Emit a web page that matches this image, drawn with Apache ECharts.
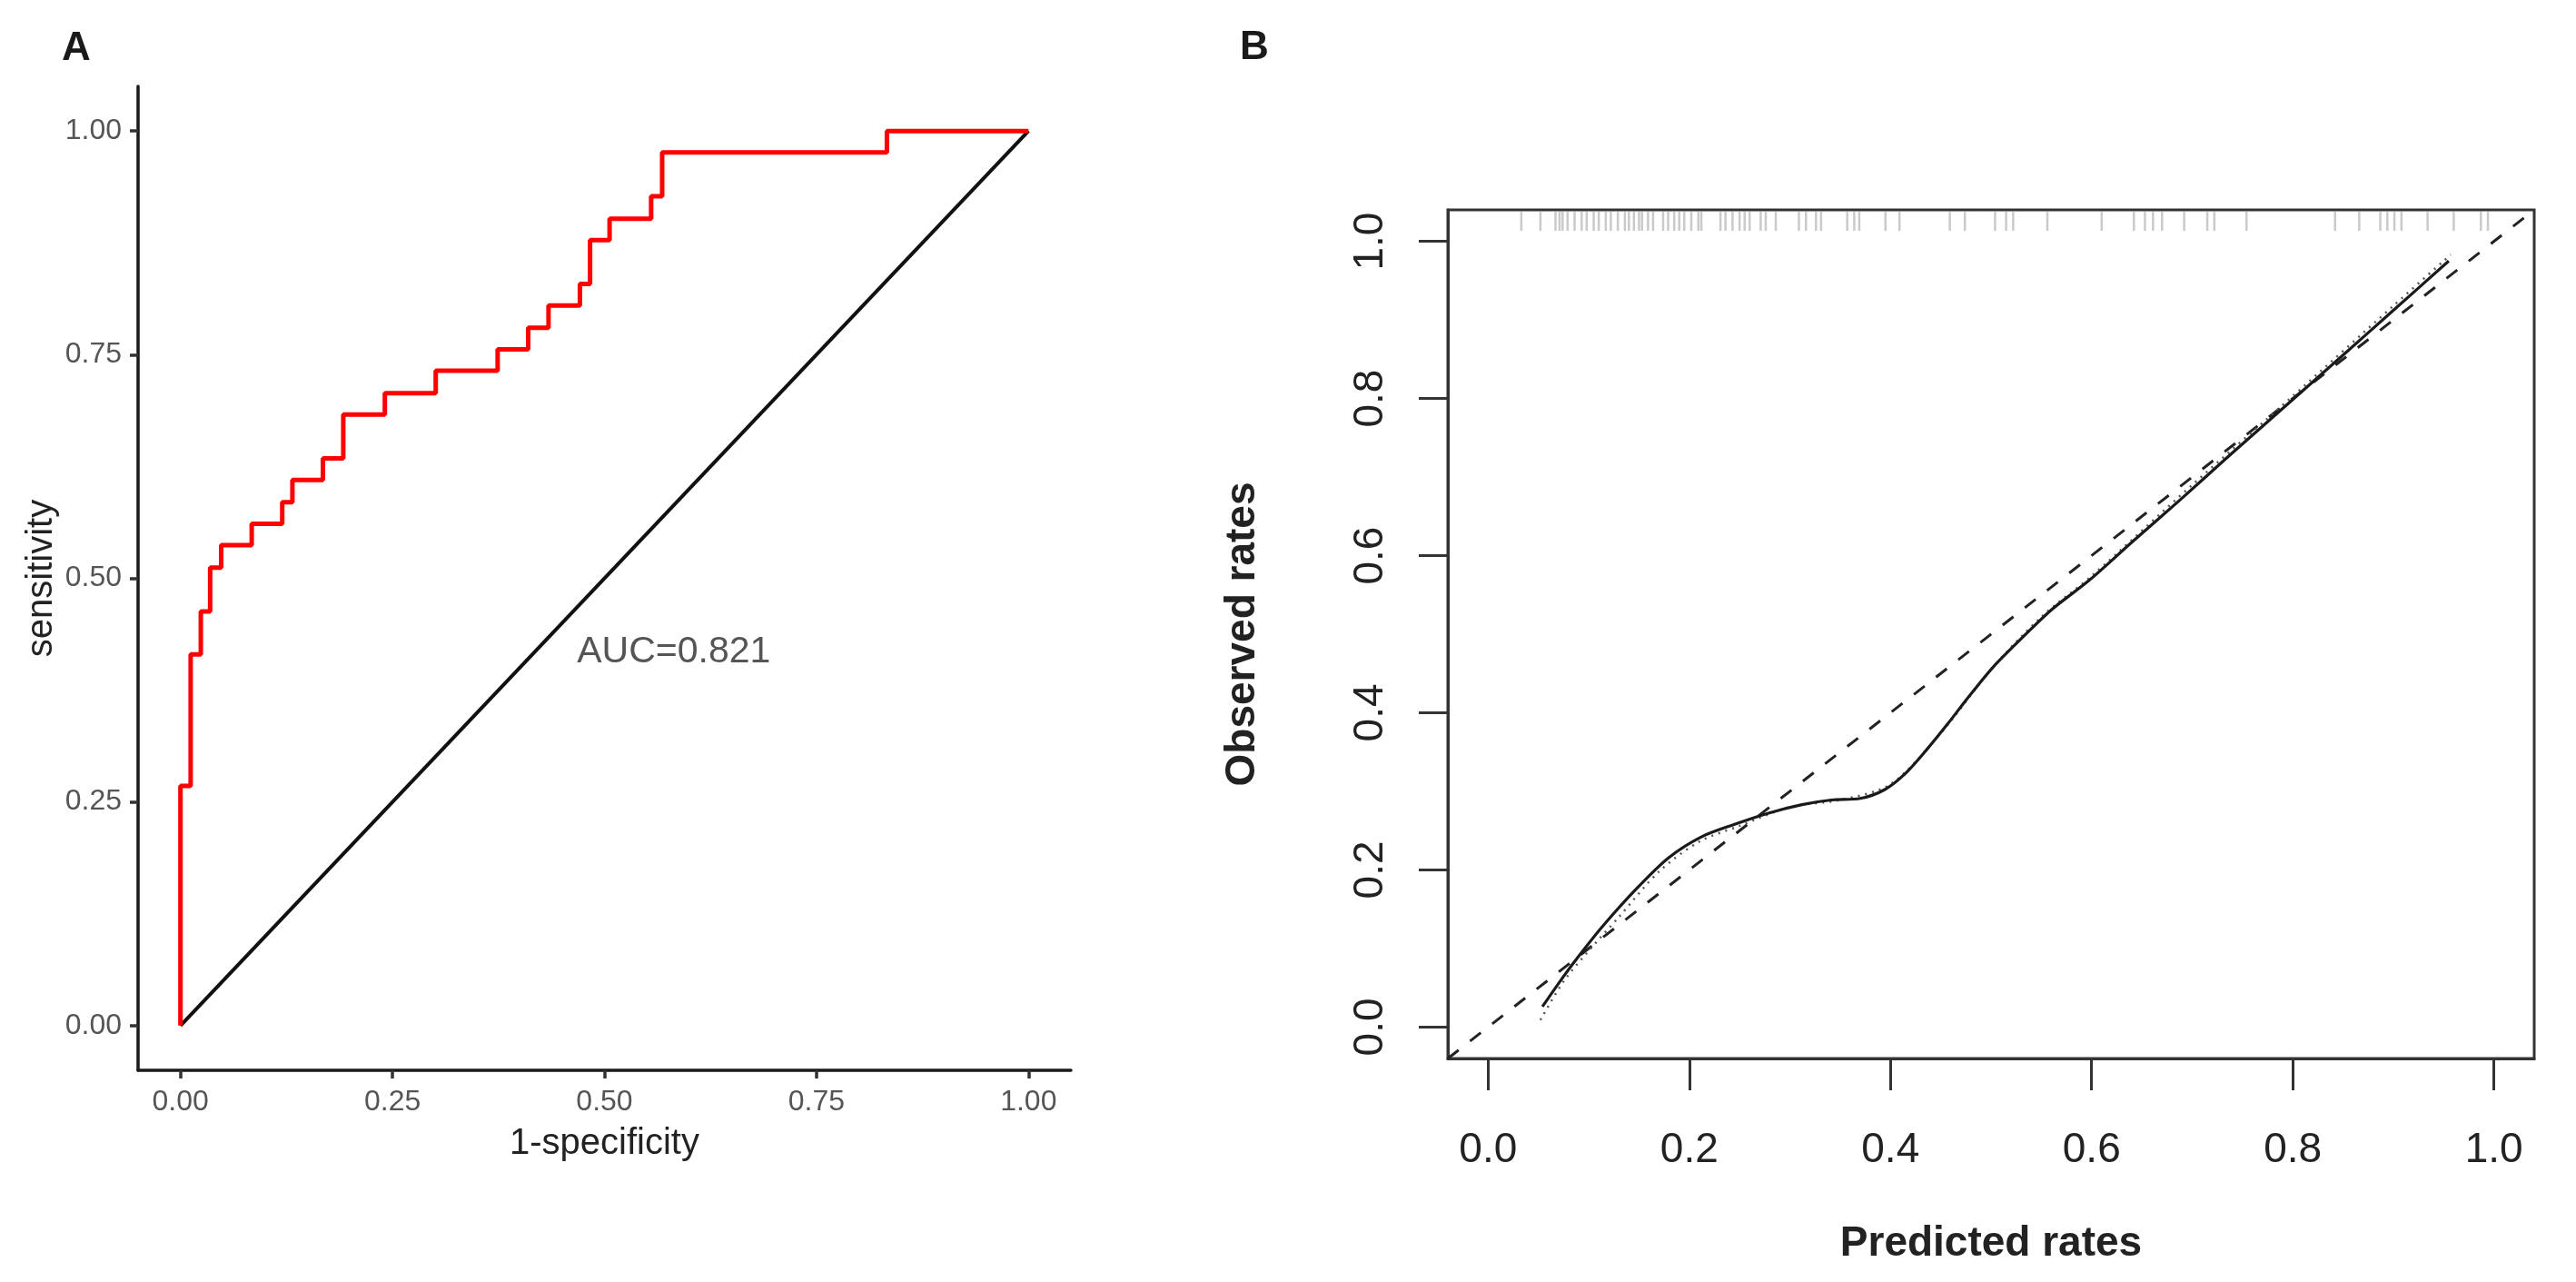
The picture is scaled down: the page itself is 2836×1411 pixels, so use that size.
<!DOCTYPE html>
<html>
<head>
<meta charset="utf-8">
<script src="https://cdn.jsdelivr.net/npm/echarts@6/dist/echarts.min.js"></script>
<style>
html,body{margin:0;padding:0;background:#fff;}
#c{width:2836px;height:1411px;}
</style>
</head>
<body>
<div id="c"></div>
<script>
// ---------- Panel A: ROC curve (step points: fpr, tpr) ----------
const rocFpr = [0, 0, 0.012, 0.024, 0.035, 0.048, 0.084, 0.120, 0.132, 0.168, 0.192, 0.241, 0.301, 0.374, 0.410, 0.434, 0.471, 0.483, 0.506, 0.555, 0.568, 0.833, 1.0];
const rocTpr = [0, 0.268, 0.415, 0.463, 0.512, 0.537, 0.561, 0.585, 0.610, 0.634, 0.683, 0.707, 0.732, 0.756, 0.780, 0.805, 0.829, 0.878, 0.902, 0.927, 0.976, 1.0, 1.0];
const chanceX = [0, 1];
const chanceY = [0, 1];
const rocTicks = [0, 0.25, 0.5, 0.75, 1];
const aucText = 'AUC=0.821';
const aucPos = [0.467, 0.418];

// ---------- Panel B: calibration ----------
const calX = [0.054, 0.077, 0.096, 0.115, 0.146, 0.179, 0.212, 0.245, 0.278, 0.312, 0.341, 0.370, 0.394, 0.415, 0.436, 0.457, 0.477, 0.502, 0.533, 0.560, 0.598, 0.640, 0.688, 0.734, 0.779, 0.848, 0.899, 0.955];
const calY = [0.026, 0.068, 0.100, 0.130, 0.174, 0.215, 0.242, 0.258, 0.272, 0.283, 0.289, 0.291, 0.302, 0.323, 0.353, 0.386, 0.419, 0.458, 0.498, 0.531, 0.569, 0.617, 0.671, 0.724, 0.775, 0.853, 0.911, 0.975];
const appX = [0.052, 0.075, 0.100, 0.130, 0.170, 0.210, 0.250, 0.300, 0.350, 0.400, 0.450, 0.500, 0.550, 0.600, 0.700, 0.800, 0.900, 0.957];
const appY = [0.009, 0.058, 0.097, 0.140, 0.198, 0.236, 0.256, 0.280, 0.289, 0.309, 0.374, 0.455, 0.522, 0.574, 0.690, 0.803, 0.918, 0.983];
const idealX = [-0.04, 1.04];
const idealY = [-0.04, 1.04];
const rugX = [0.033, 0.052, 0.067, 0.071, 0.074, 0.079, 0.086, 0.093, 0.098, 0.105, 0.110, 0.117, 0.122, 0.129, 0.136, 0.140, 0.145, 0.150, 0.153, 0.159, 0.164, 0.174, 0.179, 0.185, 0.190, 0.195, 0.202, 0.209, 0.212, 0.231, 0.236, 0.243, 0.250, 0.255, 0.260, 0.271, 0.276, 0.286, 0.309, 0.316, 0.326, 0.331, 0.357, 0.364, 0.369, 0.395, 0.409, 0.459, 0.474, 0.504, 0.515, 0.522, 0.556, 0.610, 0.642, 0.653, 0.661, 0.670, 0.692, 0.715, 0.722, 0.754, 0.842, 0.866, 0.887, 0.894, 0.901, 0.908, 0.934, 0.960, 0.987, 0.994];
const calTicks = [0, 0.2, 0.4, 0.6, 0.8, 1.0];

const FONT = "'Liberation Sans', Arial, Helvetica, sans-serif";
const zip = (a, b) => a.map((v, i) => [v, b[i]]);

const chart = echarts.init(document.getElementById('c'), null, {renderer: 'canvas'});

const option = {
  animation: false,
  backgroundColor: '#ffffff',
  textStyle: {fontFamily: FONT},
  graphic: [
    {type: 'text', left: 68, top: 32, style: {text: 'A', font: 'bold 44px ' + FONT, fill: '#1a1a1a'}},
    {type: 'text', left: 1365, top: 31, style: {text: 'B', font: 'bold 44px ' + FONT, fill: '#1a1a1a'}}
  ],
  grid: [
    {left: 152, top: 95, width: 1027, height: 1083, containLabel: false},
    {left: 1594, top: 231, width: 1196, height: 934, containLabel: false,
     show: true, borderColor: '#333', borderWidth: 3, backgroundColor: 'transparent'}
  ],
  xAxis: [
    {
      gridIndex: 0, type: 'value', min: -0.05, max: 1.05,
      axisLine: {show: true, onZero: false, lineStyle: {color: '#1a1a1a', width: 3.5}},
      axisTick: {show: true, customValues: rocTicks, length: 9, lineStyle: {color: '#333', width: 3.5}},
      axisLabel: {show: true, customValues: rocTicks, formatter: v => v.toFixed(2), fontSize: 32, color: '#555', margin: 19, fontFamily: FONT},
      splitLine: {show: false},
      name: '1-specificity', nameLocation: 'middle', nameGap: 61,
      nameTextStyle: {fontSize: 40, color: '#222', fontFamily: FONT}
    },
    {
      gridIndex: 1, type: 'value', min: -0.04, max: 1.04,
      axisLine: {show: true, onZero: false, lineStyle: {color: '#333', width: 3}},
      axisTick: {show: true, customValues: calTicks, length: 35, lineStyle: {color: '#333', width: 3}},
      axisLabel: {show: true, customValues: calTicks, formatter: v => v.toFixed(1), fontSize: 46, color: '#222', margin: 78, fontFamily: FONT},
      splitLine: {show: false},
      name: 'Predicted rates', nameLocation: 'middle', nameGap: 181,
      nameTextStyle: {fontSize: 46, fontWeight: 'bold', color: '#222', fontFamily: FONT}
    }
  ],
  yAxis: [
    {
      gridIndex: 0, type: 'value', min: -0.05, max: 1.05,
      axisLine: {show: true, onZero: false, lineStyle: {color: '#1a1a1a', width: 3.5}},
      axisTick: {show: true, customValues: rocTicks, length: 9, lineStyle: {color: '#333', width: 3.5}},
      axisLabel: {show: true, customValues: rocTicks, formatter: v => v.toFixed(2), fontSize: 32, color: '#555', margin: 18, fontFamily: FONT},
      splitLine: {show: false},
      name: 'sensitivity', nameLocation: 'middle', nameGap: 86,
      nameTextStyle: {fontSize: 40, color: '#222', fontFamily: FONT}
    },
    {
      gridIndex: 1, type: 'value', min: -0.04, max: 1.04,
      axisLine: {show: true, onZero: false, lineStyle: {color: '#333', width: 3}},
      axisTick: {show: true, customValues: calTicks, length: 32, lineStyle: {color: '#333', width: 3}},
      axisLabel: {show: true, customValues: calTicks, rotate: 90, formatter: v => v.toFixed(1), fontSize: 46, color: '#222', margin: 62, fontFamily: FONT},
      splitLine: {show: false},
      name: 'Observed rates', nameLocation: 'middle', nameGap: 203,
      nameTextStyle: {fontSize: 46, fontWeight: 'bold', color: '#222', fontFamily: FONT}
    }
  ],
  series: [
    {
      type: 'line', xAxisIndex: 0, yAxisIndex: 0, data: zip(chanceX, chanceY),
      symbol: 'none', lineStyle: {color: '#111', width: 4}, z: 2
    },
    {
      type: 'line', xAxisIndex: 0, yAxisIndex: 0, data: zip(rocFpr, rocTpr),
      step: 'end', symbol: 'none', lineStyle: {color: '#ff0000', width: 5}, z: 3
    },
    {
      type: 'scatter', xAxisIndex: 0, yAxisIndex: 0, data: [aucPos],
      symbolSize: 1, itemStyle: {color: 'rgba(0,0,0,0)'}, silent: true,
      label: {show: true, position: 'right', distance: 0, formatter: aucText, fontSize: 41, color: '#2a2a2a', fontFamily: FONT}
    },
    {
      type: 'custom', xAxisIndex: 1, yAxisIndex: 1, data: rugX.map(v => [v, 1]),
      encode: {x: 0, y: 1}, clip: false, silent: true,
      renderItem: function (params, api) {
        const px = api.coord([api.value(0), 0])[0];
        const top = params.coordSys.y;
        return {type: 'line', shape: {x1: px, y1: top + 2, x2: px, y2: top + 23},
                style: {stroke: 'rgba(110,100,100,0.35)', lineWidth: 2.5}};
      }
    },
    {
      type: 'line', xAxisIndex: 1, yAxisIndex: 1, data: zip(idealX, idealY),
      symbol: 'none', lineStyle: {color: '#222', width: 3, type: [15, 16]}, z: 2
    },
    {
      type: 'line', xAxisIndex: 1, yAxisIndex: 1, data: zip(appX, appY),
      symbol: 'none', smooth: 0.3, lineStyle: {color: '#555', width: 2.5, type: [2, 6]}, z: 3
    },
    {
      type: 'line', xAxisIndex: 1, yAxisIndex: 1, data: zip(calX, calY),
      symbol: 'none', smooth: 0.3, lineStyle: {color: '#1a1a1a', width: 3.2}, z: 4
    }
  ]
};
chart.setOption(option);
</script>
</body>
</html>
